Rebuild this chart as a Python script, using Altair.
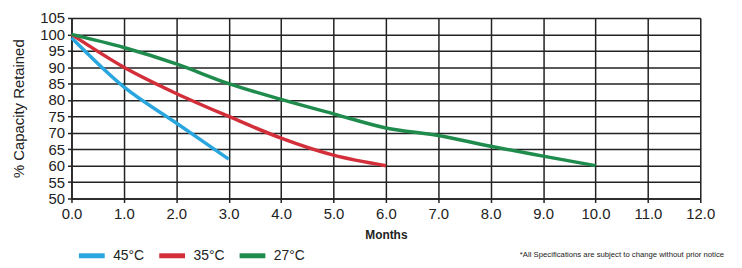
import altair as alt
import pandas as pd

months_45 = [0, 1, 2, 3]
cap_45 = [99, 84, 73, 62]
months_35 = [0, 1, 2, 3, 4, 5, 6]
cap_35 = [100, 90, 82, 75, 68.4, 63.2, 60]
months_27 = [0, 1, 2, 3, 4, 5, 6, 7, 8, 9, 10]
cap_27 = [100, 96, 91, 85, 80.2, 75.8, 71.5, 69.2, 65.9, 62.9, 60]
series = ["45°C", "35°C", "27°C"]
colors = ["#2aa6df", "#d22f3b", "#1f8b4d"]
x_ticks = list(range(0, 13))
y_ticks = list(range(50, 106, 5))
footnote = "*All Specifications are subject to change without prior notice"

rows = []
for name, ms, cs in zip(series, [months_45, months_35, months_27], [cap_45, cap_35, cap_27]):
    for m, c in zip(ms, cs):
        rows.append({"Series": name, "Months": m, "Capacity": c})
df = pd.DataFrame(rows)

font = "Liberation Sans"

lines = alt.Chart(df).mark_line(strokeWidth=3.5, interpolate="monotone").encode(
    x=alt.X("Months:Q", scale=alt.Scale(domain=[0, 12], nice=False),
            axis=alt.Axis(values=x_ticks, format=".1f", title="Months",
                          titleFontWeight="bold", titleFontSize=12, titlePadding=8,
                          labelFontSize=15, labelPadding=4, tickSize=4,
                          labelFlush=False,
                          gridColor="#222222", gridWidth=1.5, gridOpacity=1,
                          domainColor="#222222", domainWidth=1.5,
                          tickColor="#222222", tickWidth=1.5,
                          labelColor="#222222", titleColor="#222222")),
    y=alt.Y("Capacity:Q", scale=alt.Scale(domain=[50, 105], nice=False, zero=False),
            axis=alt.Axis(values=y_ticks, title="% Capacity Retained",
                          titleFontSize=15, titleFontWeight="normal", titlePadding=13,
                          labelFontSize=15, labelPadding=3, tickSize=4,
                          labelFlush=False,
                          gridColor="#222222", gridWidth=1.5, gridOpacity=1,
                          domainColor="#222222", domainWidth=1.5,
                          tickColor="#222222", tickWidth=1.5,
                          labelColor="#222222", titleColor="#222222")),
    color=alt.Color("Series:N", scale=alt.Scale(domain=series, range=colors),
                    sort=series,
                    legend=alt.Legend(orient="none", legendX=5, legendY=224,
                                      direction="horizontal", title=None,
                                      symbolType="stroke", symbolStrokeWidth=5,
                                      symbolSize=676, labelFontSize=14,
                                      labelOffset=6, columnPadding=4,
                                      labelColor="#222222", labelFont=font)),
)

note = alt.Chart(pd.DataFrame({"t": [footnote]})).mark_text(
    align="right", baseline="middle", fontSize=7.8, font=font, color="#222222"
).encode(text="t:N", x=alt.value(658), y=alt.value(239))

chart = alt.layer(lines, note).properties(
    width=634, height=182,
    autosize=alt.AutoSizeParams(type="none"),
    padding={"left": 64, "top": 9, "right": 34, "bottom": 68},
).configure_view(stroke="#222222", strokeWidth=1.5).configure(font=font).configure_axis(
    labelFont=font, titleFont=font)

chart.save("out.html", embed_options={"renderer": "svg", "actions": False})
